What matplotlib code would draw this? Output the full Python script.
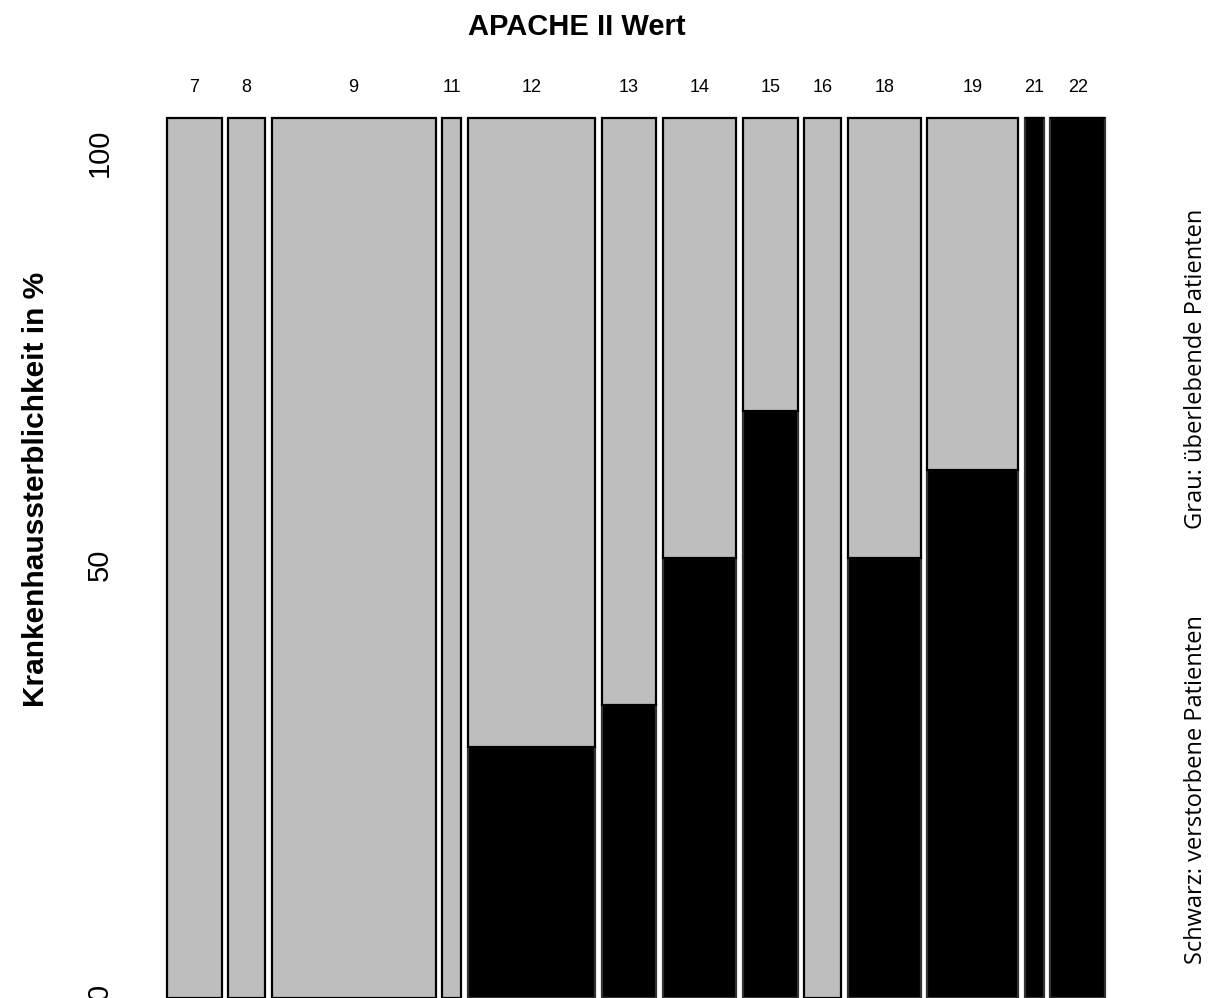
import matplotlib.pyplot as plt
import numpy as np

# APACHE II Werte, Anzahl Patienten, davon verstorben
werte = ['7', '8', '9', '11', '12', '13', '14', '15', '16', '18', '19', '21', '22']
anzahl = [3, 2, 9, 1, 7, 3, 4, 3, 2, 4, 5, 1, 3]
verstorben = [0, 0, 0, 0, 2, 1, 2, 2, 0, 2, 3, 1, 3]

anzahl = np.array(anzahl)
tot = np.array(verstorben) / anzahl * 100
lebend = 100 - tot

W, H = 1211, 998
fig = plt.figure(figsize=(W / 100, H / 100), dpi=100)
ax = fig.add_axes([167 / W, 0, 938 / W, 880 / H])

luecke = 0.38
links = np.concatenate([[0], np.cumsum(anzahl + luecke)[:-1]])
mitte = links + anzahl / 2

ax.bar(links, tot, width=anzahl, align='edge', color='black', edgecolor='#333333', linewidth=1.6, clip_on=False)
ax.bar(links, lebend, width=anzahl, bottom=tot, align='edge', color='#BEBEBE', edgecolor='black', linewidth=1.6, clip_on=False)

ax.set_xlim(0, links[-1] + anzahl[-1])
ax.set_ylim(0, 100)
for s in ax.spines.values():
    s.set_visible(False)

ax.set_xticks(mitte)
ax.set_xticklabels(werte, fontsize=13, family='Liberation Sans')
ax.xaxis.tick_top()
ax.tick_params(axis='x', length=0, pad=16)

ax.set_yticks([0.7, 49.2, 96.1])
ax.set_yticklabels(['0', '50', '100'], rotation=90, va='center', fontsize=21, family='Liberation Sans')
ax.tick_params(axis='y', length=0, pad=38)

fig.text(577 / W, 1 - 27 / H, 'APACHE II Wert', ha='center', va='center', fontsize=21,
         fontweight='bold', family='Liberation Sans')
fig.text(36 / W, 1 - 489 / H, 'Krankenhaussterblichkeit in %', ha='center', va='center', rotation=90,
         fontsize=21.5, fontweight='bold', family='Liberation Sans')
fig.text(1196 / W, 1 - 369 / H, 'Grau: überlebende Patienten', ha='center', va='center', rotation=90,
         fontsize=17, family='Open Sans')
fig.text(1196 / W, 1 - 790 / H, 'Schwarz: verstorbene Patienten', ha='center', va='center', rotation=90,
         fontsize=17, family='Open Sans')

fig.savefig('out.png', dpi=100)
